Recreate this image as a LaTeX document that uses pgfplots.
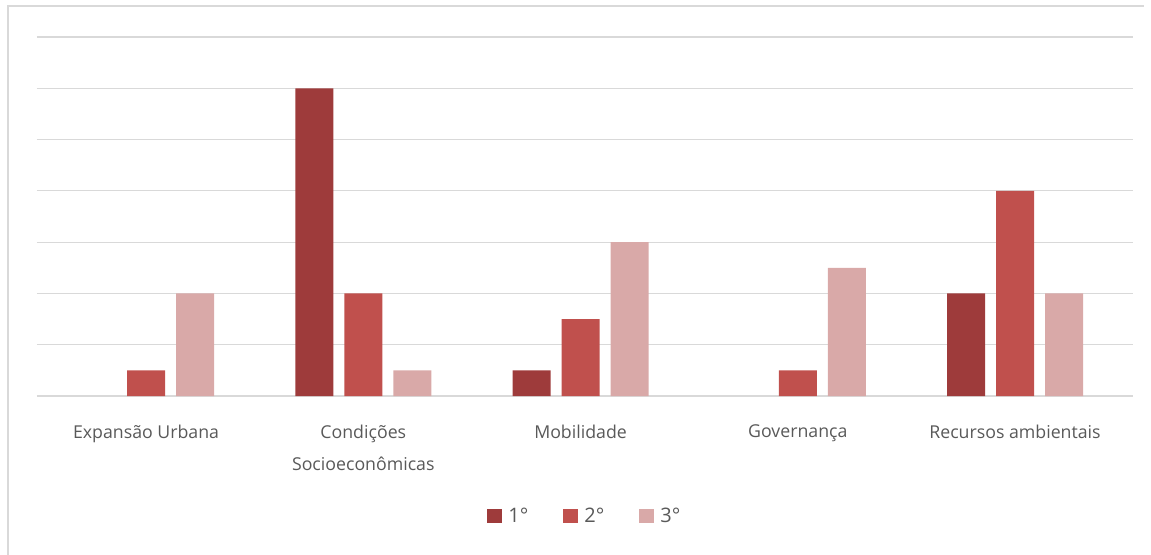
\documentclass[border=0pt]{standalone}
\usepackage{fontspec}
\setmainfont{Open Sans}
\usepackage{pgfplots}
\pgfplotsset{compat=1.18}
\definecolor{cA}{HTML}{9E3B3B}
\definecolor{cB}{HTML}{C0504D}
\definecolor{cC}{HTML}{D9A9A8}
\definecolor{gridc}{HTML}{D9D9D9}
\definecolor{txt}{HTML}{595959}
\begin{document}
\begin{tikzpicture}
\path[use as bounding box] (0pt,0pt) rectangle (863.25pt,415.5pt);
\draw[gridc, line width=1pt] (6pt,-5pt) -- (6pt,411pt) -- (858pt,411pt);
\begin{axis}[
  at={(27.75pt,118.5pt)}, anchor=south west,
  scale only axis,
  width=822pt, height=269.25pt,
  ymin=0, ymax=14,
  ytick={0,2,...,14},
  yticklabels={},
  ymajorgrids,
  grid style={gridc, line width=0.9pt},
  axis line style={draw=none},
  major tick length=0pt,
  xmin=-0.502, xmax=4.543,
  xtick={0,1,2,3,4},
  xticklabels={Expans\~ao Urbana, {Condi\c{c}\~oes\\Socioecon\^omicas}, Mobilidade, Governan\c{c}a, Recursos ambientais},
  xticklabel style={align=center, font=\fontsize{13.3}{24}\selectfont, text=txt, anchor=north, yshift=-18pt},
  ybar=8.25pt,
  bar width=28.5pt,
  legend columns=3,
  legend style={draw=none, at={(0.5,-0.334)}, anchor=center, font=\fontsize{15}{17}\selectfont, text=txt,
    /tikz/every even column/.append style={column sep=24pt},
    /tikz/every odd column/.append style={column sep=3pt}},
  legend image code/.code={\fill[#1] (0pt,-5.5pt) rectangle (11pt,5.5pt);},
]
\addplot[fill=cA, draw=none] coordinates {(1,12) (2,1) (4,4)};
\addplot[fill=cB, draw=none] coordinates {(0,1) (1,4) (2,3) (3,1) (4,8)};
\addplot[fill=cC, draw=none] coordinates {(0,4) (1,1) (2,6) (3,5) (4,4)};
\legend{1°, 2°, 3°}
\end{axis}
\end{tikzpicture}
\end{document}
